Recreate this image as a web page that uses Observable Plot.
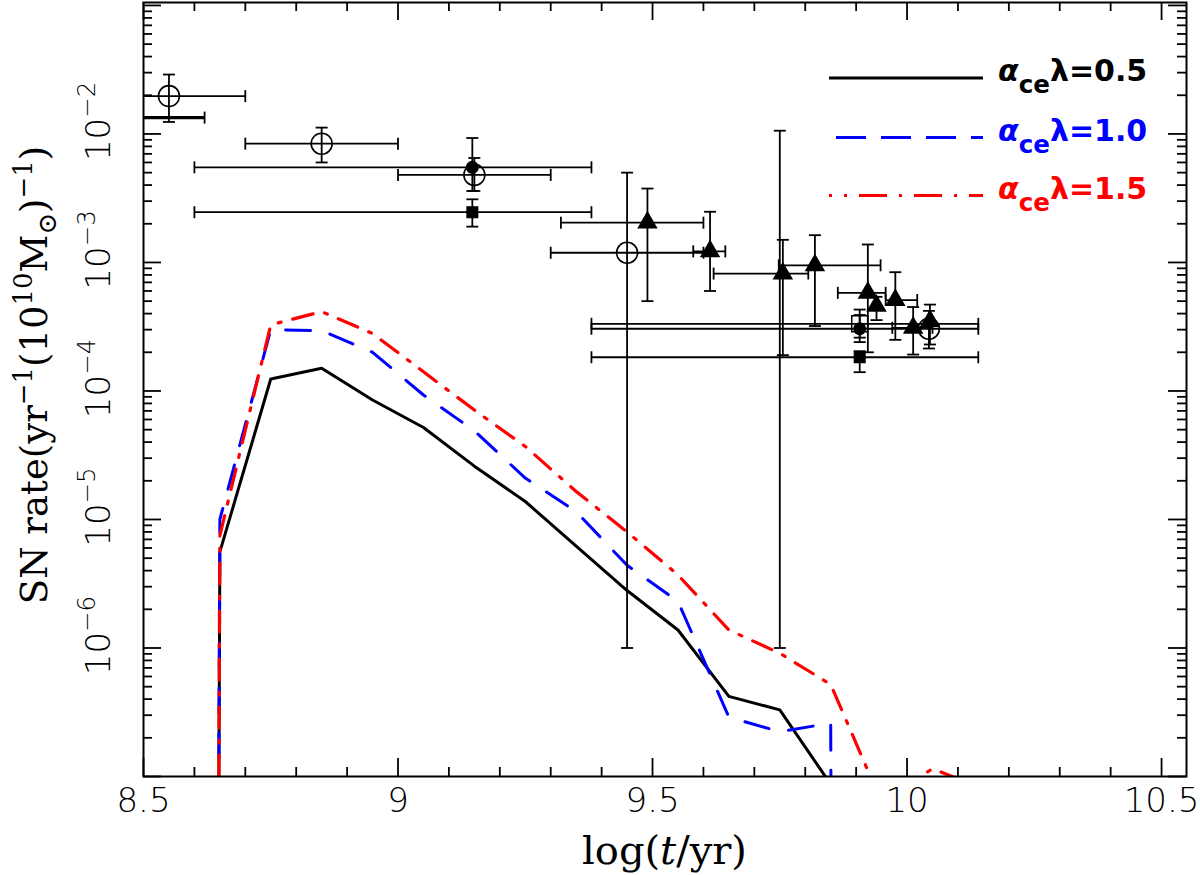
<!DOCTYPE html>
<html>
<head>
<meta charset="utf-8">
<script src="https://cdn.jsdelivr.net/npm/d3@7"></script>
<script src="https://cdn.jsdelivr.net/npm/@observablehq/plot@0.6"></script>
<style>
  body { margin: 0; background: #fff; }
</style>
</head>
<body>
<div id="chart"></div>
<script>
// model SN Ia rates per bin of log(t/yr); 0 means no events in that bin
const tModel = [8.55, 8.65, 8.75, 8.85, 8.95, 9.05, 9.15, 9.25, 9.35, 9.45, 9.55, 9.65, 9.75, 9.85, 9.95, 10.05, 10.15, 10.25];
const rate05 = [0, 5.6e-6, 1.24e-4, 1.50e-4, 8.5e-5, 5.2e-5, 2.6e-5, 1.38e-5, 6.2e-6, 2.8e-6, 1.38e-6, 4.2e-7, 3.3e-7, 8.7e-8, 0, 0, 0, 0];
const rate10 = [0, 1.0e-5, 3.0e-4, 2.95e-4, 2.0e-4, 9.3e-5, 4.9e-5, 2.1e-5, 1.15e-5, 4.4e-6, 2.3e-6, 2.9e-7, 2.23e-7, 2.6e-7, 0, 0, 0, 0];
const rate15 = [0, 7.5e-6, 3.27e-4, 4.14e-4, 2.8e-4, 1.41e-4, 7.1e-5, 3.7e-5, 1.65e-5, 8.0e-6, 3.7e-6, 1.38e-6, 9.1e-7, 5.2e-7, 6.3e-8, 1.15e-7, 8.0e-8, 0];
const modelLabels = ["0.5", "1.0", "1.5"];

// observed rates with errors
const obsT   = [8.55, 8.50, 8.85, 9.146, 9.15, 9.146, 9.45, 9.49, 9.613, 9.756, 9.75, 9.819, 9.907, 9.907, 9.907, 9.923, 9.94, 9.977, 10.012, 10.043, 10.045];
const obsRate = [0.0197, 0.0134, 0.0084, 0.0055, 0.0048, 0.00246, 0.00119, 0.00204, 0.00122, 8.2e-4, 8.2e-4, 9.5e-4, 3.33e-4, 3.05e-4, 1.83e-4, 5.8e-4, 4.6e-4, 5.1e-4, 3.1e-4, 3.05e-4, 3.5e-4];
const obsTlo = [8.40, 8.38, 8.70, 8.60, 9.00, 8.60, 9.30, 9.32, 9.58, 9.62, null, 9.748, 9.38, 9.38, 9.38, 9.864, null, 9.958, 9.971, null, null];
const obsThi = [8.70, 8.62, 9.00, 9.38, 9.30, 9.38, 9.60, 9.60, 9.643, 9.806, null, 9.948, 10.14, 10.14, 10.14, 9.958, null, 10.02, 10.05, null, null];
const obsRlo = [0.0124, null, 0.0060, 0.0036, 0.0036, 0.0019, 1.0e-6, 5.0e-4, 6.0e-4, 1.9e-4, 1.0e-6, 3.2e-4, 2.6e-4, 2.4e-4, 1.40e-4, 2.0e-4, 3.56e-4, 2.5e-4, 1.92e-4, 2.14e-4, 2.3e-4];
const obsRhi = [0.029, null, 0.0112, 0.0093, 0.0065, 0.0031, 0.0050, 0.00376, 0.00248, 0.0015, 0.0106, 0.00163, 4.3e-4, 3.9e-4, 2.04e-4, 0.00138, 5.4e-4, 8.4e-4, 4.5e-4, 4.2e-4, 4.7e-4];
const obsSym = ["oc", "none", "oc", "fc", "oc", "fs", "oc", "tr", "tr", "tr", "none", "tr", "os", "fc", "fs", "tr", "tr", "tr", "tr", "oc", "tr"];

const xTicks = [8.5, 9, 9.5, 10, 10.5];
const xTickLabels = ["8.5", "9", "9.5", "10", "10.5"];
const yTicks = [1e-6, 1e-5, 1e-4, 1e-3, 1e-2];
const yTickExps = ["−6", "−5", "−4", "−3", "−2"];

const W = 1200, H = 875;
const mL = 143, mR = 14, mT = 2, mB = 99;
const innerW = W - mL - mR, innerH = H - mT - mB;

const xMinor = d3.range(86, 106).filter((d) => d % 5 !== 0).map((d) => d / 10);
const yMajor = [1e-7, 1e-6, 1e-5, 1e-4, 1e-3, 1e-2, 1e-1];
const yMinor = d3.range(-7, -1).flatMap((e) => d3.range(2, 10).map((m) => m * 10 ** e));

const obs = obsT.map((t, i) => ({
  t, rate: obsRate[i], tlo: obsTlo[i], thi: obsThi[i],
  rlo: obsRlo[i], rhi: obsRhi[i], sym: obsSym[i]
}));
const hBars = obs.filter((d) => d.tlo != null);
const vBars = obs.filter((d) => d.rlo != null);

const model = (values) => tModel.map((t, i) => ({t, rate: Math.max(values[i], 1e-100)}));

// small line symbols for error bar caps
const capV = {draw(ctx, size) { const r = Math.sqrt(size / Math.PI); ctx.moveTo(0, -r); ctx.lineTo(0, r); }};
const capH = {draw(ctx, size) { const r = Math.sqrt(size / Math.PI); ctx.moveTo(-r, 0); ctx.lineTo(r, 0); }};

const tickFont = "DejaVu Sans";
const ink = {stroke: "black", strokeWidth: 1.8};

const plot = Plot.plot({
  width: W,
  height: H,
  marginLeft: mL,
  marginRight: mR,
  marginTop: mT,
  marginBottom: mB,
  style: {background: "white", overflow: "visible"},
  x: {domain: [8.5, 10.549], axis: null},
  y: {type: "log", domain: [1e-7, 0.1054], axis: null},
  marks: [
    // inward ticks on all four sides
    Plot.tickX(xTicks, {x: (d) => d, insetTop: innerH - 18, ...ink}),
    Plot.tickX(xTicks, {x: (d) => d, insetBottom: innerH - 18, ...ink}),
    Plot.tickX(xMinor, {x: (d) => d, insetTop: innerH - 9, ...ink}),
    Plot.tickX(xMinor, {x: (d) => d, insetBottom: innerH - 9, ...ink}),
    Plot.tickY(yMajor, {y: (d) => d, insetRight: innerW - 18, ...ink}),
    Plot.tickY(yMajor, {y: (d) => d, insetLeft: innerW - 18, ...ink}),
    Plot.tickY(yMinor, {y: (d) => d, insetRight: innerW - 9, ...ink}),
    Plot.tickY(yMinor, {y: (d) => d, insetLeft: innerW - 9, ...ink}),

    Plot.text(xTicks, {
      x: (d) => d, frameAnchor: "bottom", dy: 35, text: (d, i) => xTickLabels[i],
      fontSize: 34, fontFamily: tickFont, fontWeight: 300, fill: "black"
    }),

    // model curves
    Plot.line(model(rate05), {x: "t", y: "rate", stroke: "black", strokeWidth: 3, clip: true}),
    Plot.line(model(rate10), {x: "t", y: "rate", stroke: "#0000ff", strokeWidth: 3, strokeDasharray: "25,20", clip: true}),
    Plot.line(model(rate15), {x: "t", y: "rate", stroke: "#ff0000", strokeWidth: 3.2, strokeDasharray: "21,12,3,12", clip: true}),

    // observations: error bars and caps
    Plot.link(hBars, {x1: "tlo", x2: "thi", y1: "rate", y2: "rate", stroke: "black",
      strokeWidth: (d) => (d.sym === "none" ? 3.4 : 1.8), clip: true}),
    Plot.link(vBars, {x1: "t", x2: "t", y1: "rlo", y2: "rhi", ...ink, clip: true}),
    Plot.dot(hBars, {x: "tlo", y: "rate", symbol: capV, r: 6, fill: "none", ...ink, clip: true}),
    Plot.dot(hBars, {x: "thi", y: "rate", symbol: capV, r: 6, fill: "none", ...ink, clip: true}),
    Plot.dot(vBars, {x: "t", y: "rlo", symbol: capH, r: 6, fill: "none", ...ink, clip: true}),
    Plot.dot(vBars, {x: "t", y: "rhi", symbol: capH, r: 6, fill: "none", ...ink, clip: true}),

    // observations: markers
    Plot.dot(obs.filter((d) => d.sym === "oc"), {x: "t", y: "rate", r: 10.5, fill: "none", stroke: "black", strokeWidth: 1.6}),
    Plot.dot(obs.filter((d) => d.sym === "os"), {x: "t", y: "rate", symbol: "square", r: 9, fill: "none", stroke: "black", strokeWidth: 1.5}),
    Plot.dot(obs.filter((d) => d.sym === "fc"), {x: "t", y: "rate", r: 6.5, fill: "black", stroke: "none"}),
    Plot.dot(obs.filter((d) => d.sym === "fs"), {x: "t", y: "rate", symbol: "square", r: 6.8, fill: "black", stroke: "none"}),
    Plot.dot(obs.filter((d) => d.sym === "tr"), {x: "t", y: "rate", symbol: "triangle", r: 7.6, fill: "black", stroke: "none"}),

    Plot.frame({stroke: "black", strokeWidth: 2})
  ]
});

// text with super/subscripts: [string, shift px (negative = up), size factor, italic]
function rich(text, base, parts) {
  let cur = 0;
  for (const [s, shift = 0, k = 1, italic = false] of parts) {
    text.append("tspan")
      .attr("dy", shift - cur)
      .attr("font-size", base * k)
      .attr("font-style", italic ? "italic" : "normal")
      .text(s);
    cur = shift;
  }
}

const svg = d3.select(plot);
const yScale = plot.scale("y");

// rotated y tick labels 10^n
yTicks.forEach((v, i) => {
  const t = svg.append("text")
    .attr("transform", `translate(110,${yScale.apply(v) - 12}) rotate(-90)`)
    .attr("text-anchor", "middle")
    .attr("font-family", tickFont).attr("font-weight", 300).attr("fill", "black");
  rich(t, 34, [["10"], [yTickExps[i], -15, 0.72]]);
});

const xTitle = svg.append("text")
  .attr("x", mL + innerW / 2).attr("y", 864)
  .attr("text-anchor", "middle")
  .attr("font-family", "DejaVu Serif").attr("fill", "black");
rich(xTitle, 40, [["log("], ["t", 0, 1, true], ["/yr)"]]);

const yTitle = svg.append("text")
  .attr("transform", "translate(47,375) rotate(-90)")
  .attr("text-anchor", "middle")
  .attr("font-family", "DejaVu Serif").attr("fill", "black");
rich(yTitle, 37, [
  ["SN rate(yr"], ["−1", -15, 0.7], ["(10"], ["10", -15, 0.7], ["M"],
  ["⊙", 9, 0.7], [")"], ["−1", -15, 0.7], [")"]
]);

// legend
const legendStyle = [
  {color: "black", dash: null, offset: 0, x1: 829, width: 3},
  {color: "#0000ff", dash: "30,15", offset: 0, x1: 836, width: 3},
  {color: "#ff0000", dash: "28,12,3,12", offset: 25, x1: 829, width: 3.2}
];
const legendY = [78, 137.5, 195.5];
const legend = svg.append("g");
modelLabels.forEach((lab, i) => {
  const st = legendStyle[i];
  legend.append("line")
    .attr("x1", st.x1).attr("x2", 983)
    .attr("y1", legendY[i]).attr("y2", legendY[i])
    .attr("stroke", st.color).attr("stroke-width", st.width)
    .attr("stroke-dasharray", st.dash).attr("stroke-dashoffset", st.offset);
  const t = legend.append("text")
    .attr("x", 998).attr("y", legendY[i] + 3)
    .attr("text-anchor", "start")
    .attr("font-family", "DejaVu Sans").attr("font-weight", "bold")
    .attr("fill", st.color);
  rich(t, 30, [["α", 0, 1, true], ["ce", 12, 0.82], ["λ=" + lab]]);
});

document.querySelector("#chart").append(plot);
</script>
</body>
</html>
